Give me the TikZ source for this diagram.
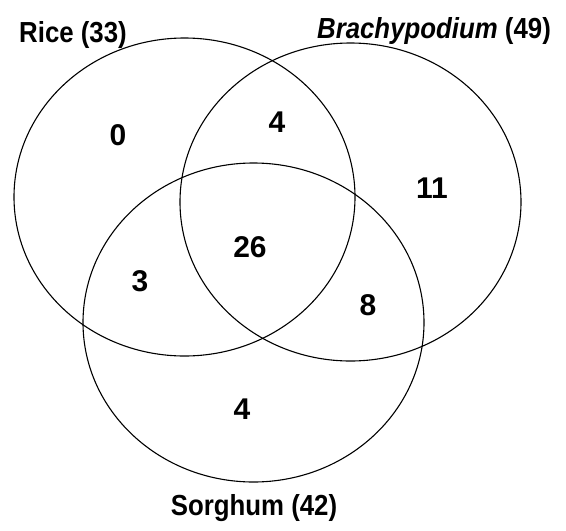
\documentclass[tikz,border=0pt]{standalone}
\usepackage{fontspec}
\setmainfont{Liberation Sans}
\newfontfamily\setnamefont[FakeStretch=0.89]{Liberation Sans}
\usepackage{tikz}

\tikzset{
  setline/.style={black, line width=1.1pt},
  setname/.style={font=\setnamefont\bfseries\fontsize{29}{33}\selectfont, anchor=base, inner sep=0pt},
  setcount/.style={font=\bfseries\fontsize{30}{34}\selectfont, inner sep=0pt}
}

\begin{document}
\begin{tikzpicture}[x=1pt, y=-1pt]
  \useasboundingbox (0,0) rectangle (566,531);

  %% Sets
  \draw[setline] (184.5,197) ellipse (170.5 and 159);   % rice
  \draw[setline] (350.5,202) ellipse (170.5 and 159);   % brachypodium
  \draw[setline] (253.5,322.5) ellipse (170.5 and 159.5); % sorghum

  %% Set names
  \node[setname] (rice) at (73,42) {Rice (33)};
  \node[setname] (brachy) at (434,38) {\textit{Brachypodium} (49)};
  \node[setname] (sorghum) at (254,515) {Sorghum (42)};

  %% Counts
  \node[setcount] (riceonly) at (118,135) {0};
  \node[setcount] (ricebrachy) at (277,122) {4};
  \node[setcount] (brachyonly) at (432,188) {11};
  \node[setcount] (allthree) at (250,247) {26};
  \node[setcount] (ricesorghum) at (140,281) {3};
  \node[setcount] (brachysorghum) at (368,305) {8};
  \node[setcount] (sorghumonly) at (242,409) {4};

\end{tikzpicture}
\end{document}
